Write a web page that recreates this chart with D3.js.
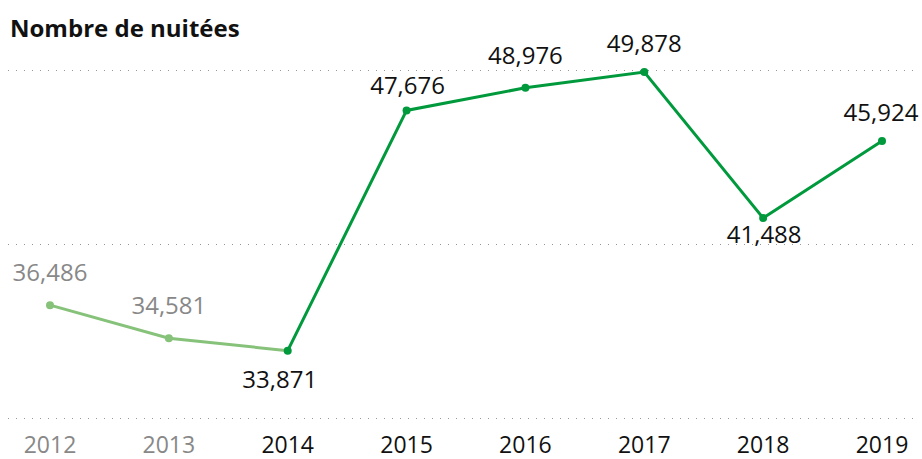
<!DOCTYPE html>
<html lang="fr">
    <head>
        <meta charset="utf-8"/>
        <script src="https://d3js.org/d3.v7.min.js"></script>
        <style>
            body { margin: 0; background: #fff; }
            text { font-family: "Open Sans", "Noto Sans", sans-serif; }
        </style>
    </head>
    <body>
        <div id="chart"></div>
    </body>
    <script>
        var years = ["2012", "2013", "2014", "2015", "2016", "2017", "2018", "2019"];
        var nights = [36486, 34581, 33871, 47676, 48976, 49878, 41488, 45924];
        var gridTicks = [30000, 40000, 50000];
        // first three years drawn in the faded colour
        var fadedCount = 3;

        // hand placed value labels (offset from the point, in px)
        var labelDx = [0, 0, -8, 1, 0, 0, 1, -1];
        var labelDy = [-24, -24, 37, -16, -24, -20, 25, -20];

        var width = 922, height = 459;

        var svg = d3.select("#chart")
            .append("svg")
                .attr("width", width)
                .attr("height", height);

        var x = d3.scalePoint()
            .domain(years)
            .range([50, 882]);

        var y = d3.scaleLinear()
            .domain([30000, 50000])
            .range([418, 70]);

        svg.append("text")
            .attr("x", 10)
            .attr("y", 37)
            .attr("font-size", 24)
            .attr("font-weight", "bold")
            .attr("fill", "#111")
            .text("Nombre de nuitées");

        svg.selectAll(".grid")
            .data(gridTicks)
            .enter()
            .append("line")
                .attr("x1", 8)
                .attr("x2", 920)
                .attr("y1", function(d) { return Math.round(y(d)) + 0.5; })
                .attr("y2", function(d) { return Math.round(y(d)) + 0.5; })
                .attr("stroke", "#999")
                .attr("stroke-width", 1)
                .attr("stroke-dasharray", "1,7");

        var data = years.map(function(d, i) {
            return { year: d, value: nights[i] };
        });

        var line = d3.line()
            .x(function(d) { return x(d.year); })
            .y(function(d) { return y(d.value); });

        svg.append("path")
            .datum(data.slice(0, fadedCount))
            .attr("d", line)
            .attr("fill", "none")
            .attr("stroke", "#86c27a")
            .attr("stroke-width", 3);

        svg.append("path")
            .datum(data.slice(fadedCount - 1))
            .attr("d", line)
            .attr("fill", "none")
            .attr("stroke", "#009a3d")
            .attr("stroke-width", 3);

        svg.selectAll(".dot")
            .data(data)
            .enter()
            .append("circle")
                .attr("cx", function(d) { return x(d.year); })
                .attr("cy", function(d) { return y(d.value); })
                .attr("r", 4)
                .attr("fill", function(d, i) { return i < fadedCount - 1 ? "#86c27a" : "#009a3d"; });

        svg.selectAll(".val")
            .data(data)
            .enter()
            .append("text")
                .attr("x", function(d, i) { return x(d.year) + labelDx[i]; })
                .attr("y", function(d, i) { return y(d.value) + labelDy[i]; })
                .attr("text-anchor", "middle")
                .attr("font-size", 24)
                .attr("fill", function(d, i) { return i < fadedCount - 1 ? "#888" : "#111"; })
                .text(function(d) { return d3.format(",")(d.value); });

        svg.selectAll(".year")
            .data(data)
            .enter()
            .append("text")
                .attr("x", function(d) { return x(d.year); })
                .attr("y", 453)
                .attr("text-anchor", "middle")
                .attr("font-size", 23)
                .attr("fill", function(d, i) { return i < fadedCount - 1 ? "#888" : "#111"; })
                .text(function(d) { return d.year; });
    </script>
</html>
